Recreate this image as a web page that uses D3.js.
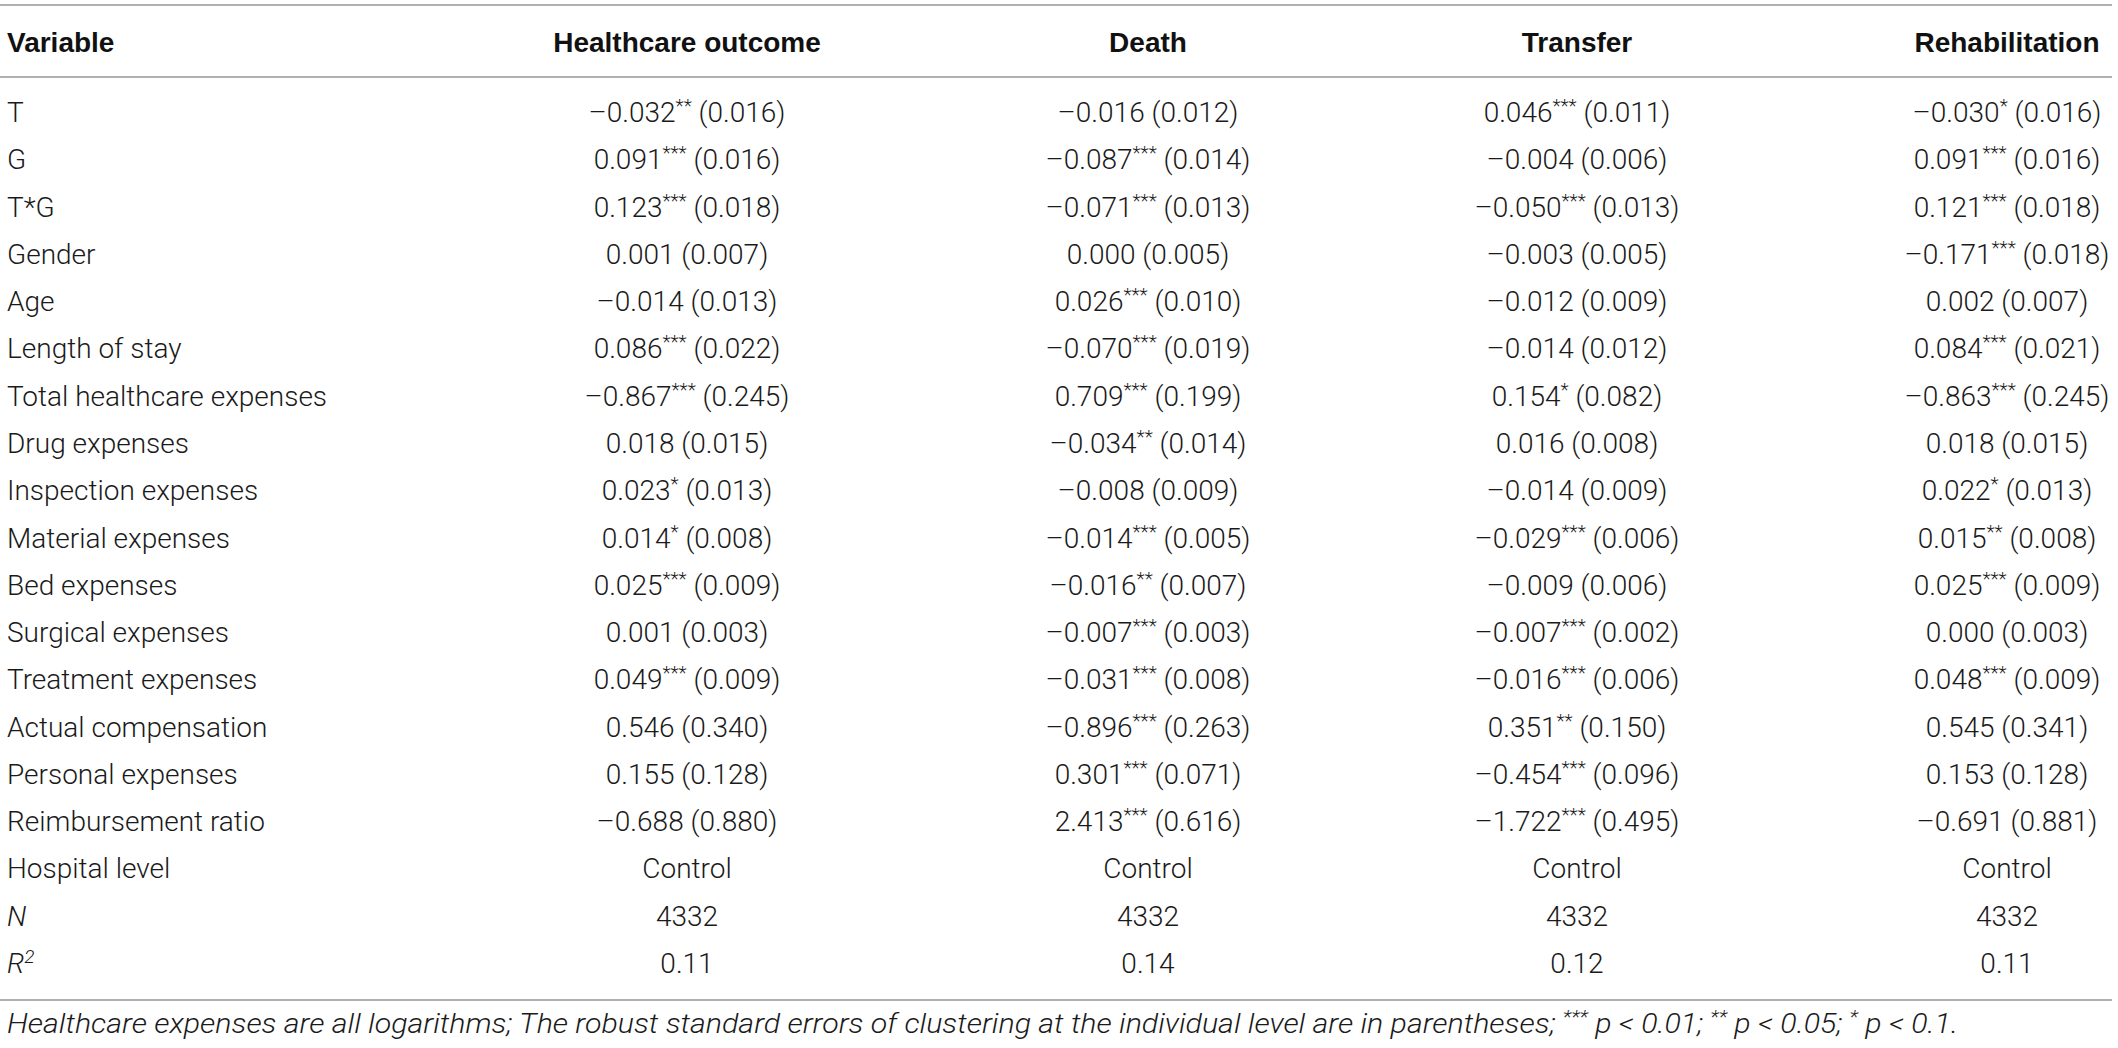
<!DOCTYPE html>
<html>
    <head>
        <meta charset="utf-8">
        <style>
            body { margin: 0; background: white; }
            .rule { stroke: #b0b0b0; stroke-width: 2; }
            .head { font-family: "Liberation Sans", Arial, sans-serif; font-weight: bold; font-size: 28px; fill: #111; }
            .cell { font-family: Roboto, "Liberation Sans", Arial, sans-serif; font-weight: 300; font-size: 28px; fill: #1a1a1a; }
            .note { font-family: Roboto, "Liberation Sans", Arial, sans-serif; font-weight: 300; font-style: italic; font-size: 27px; fill: #1a1a1a; }
        </style>
    </head>
    <body>
        <div id="plateau"></div>
        <script src="https://cdn.jsdelivr.net/npm/d3@7"></script>
        <script>

//////////////////// donnees ////////////////////
let columns = ['Healthcare outcome', 'Death', 'Transfer', 'Rehabilitation'];

let variables = ['T', 'G', 'T*G', 'Gender', 'Age', 'Length of stay', 'Total healthcare expenses',
    'Drug expenses', 'Inspection expenses', 'Material expenses', 'Bed expenses', 'Surgical expenses',
    'Treatment expenses', 'Actual compensation', 'Personal expenses', 'Reimbursement ratio',
    'Hospital level', 'N', 'R2'];

let healthcare = ['–0.032** (0.016)', '0.091*** (0.016)', '0.123*** (0.018)', '0.001 (0.007)',
    '–0.014 (0.013)', '0.086*** (0.022)', '–0.867*** (0.245)', '0.018 (0.015)', '0.023* (0.013)',
    '0.014* (0.008)', '0.025*** (0.009)', '0.001 (0.003)', '0.049*** (0.009)', '0.546 (0.340)',
    '0.155 (0.128)', '–0.688 (0.880)', 'Control', '4332', '0.11'];

let death = ['–0.016 (0.012)', '–0.087*** (0.014)', '–0.071*** (0.013)', '0.000 (0.005)',
    '0.026*** (0.010)', '–0.070*** (0.019)', '0.709*** (0.199)', '–0.034** (0.014)', '–0.008 (0.009)',
    '–0.014*** (0.005)', '–0.016** (0.007)', '–0.007*** (0.003)', '–0.031*** (0.008)', '–0.896*** (0.263)',
    '0.301*** (0.071)', '2.413*** (0.616)', 'Control', '4332', '0.14'];

let transfer = ['0.046*** (0.011)', '–0.004 (0.006)', '–0.050*** (0.013)', '–0.003 (0.005)',
    '–0.012 (0.009)', '–0.014 (0.012)', '0.154* (0.082)', '0.016 (0.008)', '–0.014 (0.009)',
    '–0.029*** (0.006)', '–0.009 (0.006)', '–0.007*** (0.002)', '–0.016*** (0.006)', '0.351** (0.150)',
    '–0.454*** (0.096)', '–1.722*** (0.495)', 'Control', '4332', '0.12'];

let rehabilitation = ['–0.030* (0.016)', '0.091*** (0.016)', '0.121*** (0.018)', '–0.171*** (0.018)',
    '0.002 (0.007)', '0.084*** (0.021)', '–0.863*** (0.245)', '0.018 (0.015)', '0.022* (0.013)',
    '0.015** (0.008)', '0.025*** (0.009)', '0.000 (0.003)', '0.048*** (0.009)', '0.545 (0.341)',
    '0.153 (0.128)', '–0.691 (0.881)', 'Control', '4332', '0.11'];

let note = 'Healthcare expenses are all logarithms; The robust standard errors of clustering at the individual level are in parentheses; *** p < 0.01; ** p < 0.05; * p < 0.1.';

//////////////////// mise en page ////////////////////
let W = 2118;
let H = 1048;
let marge_G = 7;
let ligne_W = 2112;

let svg = d3.select('#plateau').append('svg')
    .attr('width', W)
    .attr('height', H);

// lignes -> y (baseline)
let y = d3.scalePoint()
    .domain(variables)
    .range([122, 973]);

// colonnes -> x (centre)
let x = d3.scaleOrdinal()
    .domain(columns)
    .range([687, 1148, 1577, 2007]);

let colData = [healthcare, death, transfer, rehabilitation];

// traits horizontaux
[5, 77, 1000].forEach((yy) => {
    svg.append('line')
        .classed('rule', true)
        .attr('x1', 0).attr('x2', ligne_W)
        .attr('y1', yy).attr('y2', yy);
});

// entete
svg.append('text')
    .classed('head', true)
    .attr('x', marge_G)
    .attr('y', 52)
    .text('Variable');

svg.selectAll('text.colhead')
    .data(columns)
    .enter().append('text')
    .attr('class', 'head colhead')
    .attr('x', (d) => x(d))
    .attr('y', 52)
    .attr('text-anchor', 'middle')
    .text((d) => d);

// noms des variables
let labels = svg.selectAll('text.label')
    .data(variables)
    .enter().append('text')
    .attr('class', 'cell label')
    .attr('x', marge_G)
    .attr('y', (d) => y(d));

labels.each(function(d) {
    let t = d3.select(this);
    if (d === 'N') {
        t.append('tspan').style('font-style', 'italic').text('N');
    } else if (d === 'R2') {
        t.append('tspan').style('font-style', 'italic').text('R');
        t.append('tspan').style('font-style', 'italic').attr('font-size', 19).attr('dy', -10).text('2');
    } else {
        t.text(d);
    }
});

// cellules
colData.forEach((values, ci) => {
    let cells = svg.selectAll(null)
        .data(values)
        .enter().append('text')
        .classed('cell', true)
        .attr('x', x(columns[ci]))
        .attr('y', (d, i) => y(variables[i]))
        .attr('text-anchor', 'middle');

    cells.each(function(d) {
        let t = d3.select(this);
        let m = d.match(/^([^*\s]+)(\**)\s*(.*)$/);
        if (!m || (!m[2] && !m[3])) {
            t.text(d);
            return;
        }
        t.append('tspan').text(m[1]);
        if (m[2]) {
            t.append('tspan').attr('font-size', 19).attr('dy', -10).text(m[2]);
            t.append('tspan').attr('dy', 10).text(' ' + m[3]);
        } else {
            t.append('tspan').text(' ' + m[3]);
        }
    });
});

// note de bas de tableau
let noteText = svg.append('text')
    .classed('note', true)
    .attr('x', marge_G)
    .attr('y', 1033);

let parts = note.split(/(\*+)/);
parts.forEach((p) => {
    if (/^\*+$/.test(p)) {
        noteText.append('tspan').attr('font-size', 18).attr('dy', -10).text(p);
    } else {
        let ts = noteText.append('tspan').text(p);
        if (noteText.selectAll('tspan').size() > 1) ts.attr('dy', 10);
    }
});

// ajuste la largeur de la note
let noteW = noteText.node().getComputedTextLength();
let cible = 1958 - marge_G;
if (noteW > 0) {
    noteText.attr('textLength', cible).attr('lengthAdjust', 'spacingAndGlyphs');
}

        </script>
    </body>
</html>
